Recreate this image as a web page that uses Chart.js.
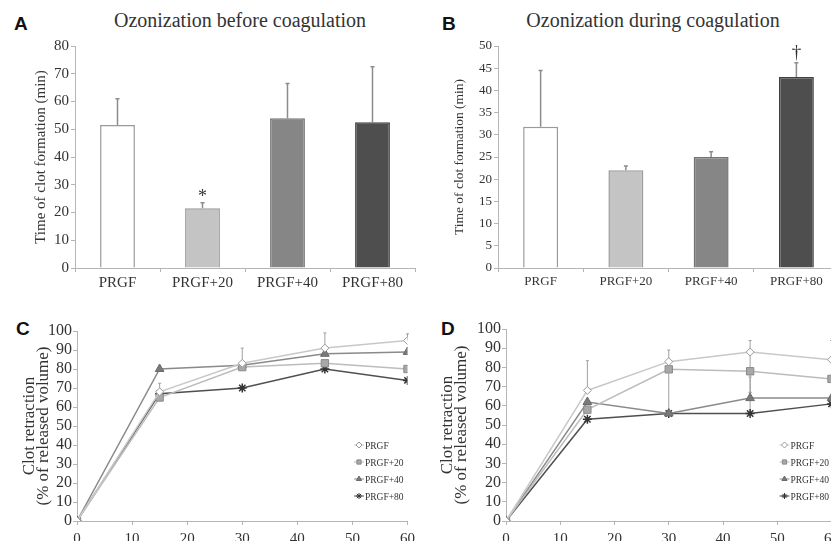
<!DOCTYPE html>
<html>
<head>
<meta charset="utf-8">
<title>Ozonization and clot formation</title>
<script src="https://cdn.jsdelivr.net/npm/chart.js@4.4.1/dist/chart.umd.min.js"></script>
<style>
  html, body { margin: 0; padding: 0; background: #fff; overflow: hidden; }
  body { width: 831px; height: 541px; position: relative; }
  canvas { position: absolute; }
  .panel { position: absolute; font: bold 19px "Liberation Sans", Arial, sans-serif; line-height: 19px; color: #111; }
  .title { position: absolute; font: 20px "Liberation Serif", "Times New Roman", serif; line-height: 20px; color: #333; white-space: nowrap; transform: translateX(-50%); }
</style>
</head>
<body>
<div class="panel" style="left:14px;top:14px">A</div>
<div class="panel" style="left:442px;top:14px">B</div>
<div class="panel" style="left:16px;top:319px">C</div>
<div class="panel" style="left:441px;top:319px">D</div>
<div class="title" style="left:240px;top:10px">Ozonization before coagulation</div>
<div class="title" style="left:653px;top:10px">Ozonization during coagulation</div>

<canvas id="chartA" width="420" height="290" style="left:0;top:0"></canvas>
<canvas id="chartB" width="430" height="290" style="left:415px;top:0"></canvas>
<canvas id="chartC" width="420" height="251" style="left:0;top:290px"></canvas>
<canvas id="chartD" width="429" height="251" style="left:415px;top:290px"></canvas>

<script>
// --- data ---
const groups = ['PRGF', 'PRGF+20', 'PRGF+40', 'PRGF+80'];

// A: ozonization before coagulation, time of clot formation (min)
const timeBefore = [51.5, 21.5, 54, 52.5];
const timeBeforeSD = [9.5, 2, 12.5, 20];
const marksBefore = ['', '*', '', ''];
const yMaxBefore = 80, yStepBefore = 10;

// B: ozonization during coagulation
const timeDuring = [31.8, 22, 25, 43];
const timeDuringSD = [12.7, 1, 1.2, 3.2];
const marksDuring = ['', '', '', '†'];
const yMaxDuring = 50, yStepDuring = 5;

// C / D: clot retraction (% of released volume) vs minutes
const minutes = [0, 15, 30, 45, 60];

const retrBeforePRGF = [0, 68, 83, 91, 95];
const retrBefore20 = [0, 65, 81, 83, 80];
const retrBefore40 = [0, 80, 82, 88, 89];
const retrBefore80 = [0, 67, 70, 80, 74];
const retrBeforeErrUpPRGF = [0, 4.5, 8, 8, 3.5];

const retrDuringPRGF = [0, 68, 83, 88, 84];
const retrDuring20 = [0, 58, 79, 78, 74];
const retrDuring40 = [0, 62, 56, 64, 64];
const retrDuring80 = [0, 53, 56, 56, 61];
const retrDuringErrUpPRGF = [0, 15.5, 6, 6, 10];
const retrDuringErrUp20 = [0, 0, 0, 10, 20];
const retrDuringErrDown20 = [0, 0, 23, 11, 10];
const retrDuringErrUp40 = [0, 0, 0, 11, 0];
const retrDuringErrUp80 = [0, 0, 0, 11, 0];

// --- styles ---
const serif = '"Liberation Serif", "Times New Roman", serif';
const axisGray = '#b5b5b5';
const textGray = '#333';
const barFill = ['#ffffff', '#c4c4c4', '#868686', '#4e4e4e'];
const barEdge = ['#9a9a9a', '#9a9a9a', '#747474', '#414141'];
const lineColors = ['#c8c8c8', '#bcbcbc', '#8a8a8a', '#4f4f4f'];
const markerStyles = ['rectRot', 'rect', 'triangle', 'star'];
const markerFill = ['#ffffff', '#a8a8a8', '#7a7a7a', '#3c3c3c'];
const markerEdge = ['#9a9a9a', '#8a8a8a', '#6a6a6a', '#333333'];
const markerSize = [4, 5.2, 5, 4.5];

Chart.defaults.font.family = serif;
Chart.defaults.color = textGray;

function yValue(v) {
  return (v !== null && typeof v === 'object') ? v.y : v;
}

// vertical error bars (upper / lower) from dataset errUp / errDown
const errorBars = {
  id: 'errorBars',
  beforeDatasetsDraw(chart) {
    const ctx = chart.ctx;
    const y = chart.scales.y;
    ctx.save();
    chart.data.datasets.forEach((ds, i) => {
      const meta = chart.getDatasetMeta(i);
      meta.data.forEach((el, j) => {
        const v = yValue(ds.data[j]);
        const up = ds.errUp ? ds.errUp[j] : 0;
        const down = ds.errDown ? ds.errDown[j] : 0;
        const cap = ds.errCap || 2;
        ctx.strokeStyle = ds.errColor || '#999';
        ctx.lineWidth = ds.errWidth || 1;
        const x = el.x;
        const y0 = y.getPixelForValue(v);
        [[up, 1], [down, -1]].forEach(([e, sgn]) => {
          if (!e) return;
          const ye = y.getPixelForValue(v + sgn * e);
          ctx.beginPath();
          ctx.moveTo(x, y0);
          ctx.lineTo(x, ye);
          ctx.moveTo(x - cap, ye);
          ctx.lineTo(x + cap, ye);
          ctx.stroke();
        });
      });
    });
    ctx.restore();
  }
};

// significance symbols above the error bars
const sigMarks = {
  id: 'sigMarks',
  afterDatasetsDraw(chart, args, opts) {
    if (!opts.marks) return;
    const ctx = chart.ctx;
    const y = chart.scales.y;
    const ds = chart.data.datasets[0];
    const meta = chart.getDatasetMeta(0);
    ctx.save();
    ctx.font = opts.font;
    ctx.fillStyle = textGray;
    ctx.textAlign = 'center';
    ctx.textBaseline = 'alphabetic';
    opts.marks.forEach((m, j) => {
      if (!m) return;
      const top = yValue(ds.data[j]) + (ds.errUp ? ds.errUp[j] : 0);
      ctx.fillText(m, meta.data[j].x, y.getPixelForValue(top) - opts.gap);
    });
    ctx.restore();
  }
};

// small legend sitting inside the plot, lower right
const insideLegend = {
  id: 'insideLegend',
  afterDatasetsDraw(chart, args, opts) {
    if (!opts.display) return;
    const {ctx, chartArea} = chart;
    ctx.save();
    ctx.font = '9.5px ' + serif;
    ctx.textBaseline = 'middle';
    ctx.textAlign = 'left';
    chart.data.datasets.forEach((ds, i) => {
      const cx = chartArea.right - opts.fromRight;
      const cy = chartArea.bottom - opts.fromBottom + i * opts.rowGap;
      ctx.strokeStyle = ds.borderColor;
      ctx.lineWidth = 1;
      ctx.beginPath();
      ctx.moveTo(cx - 5, cy);
      ctx.lineTo(cx + 5, cy);
      ctx.stroke();
      ctx.fillStyle = ds.pointBackgroundColor;
      ctx.strokeStyle = ds.pointBorderColor;
      if (Chart.helpers && Chart.helpers.drawPoint) {
        Chart.helpers.drawPoint(ctx, {pointStyle: ds.pointStyle, radius: 3, borderWidth: 1, rotation: 0}, cx, cy);
      }
      ctx.fillStyle = textGray;
      ctx.fillText(ds.label, cx + 6, cy + 1);
    });
    ctx.restore();
  }
};

function gridOpts() {
  return { display: true, drawOnChartArea: false, drawTicks: true, tickLength: 4, color: axisGray };
}

function barChart(id, values, errs, marks, yMax, yStep, f) {
  new Chart(document.getElementById(id), {
    type: 'bar',
    data: {
      labels: groups,
      datasets: [{
        data: values,
        errUp: errs,
        errColor: '#8c8c8c',
        errWidth: 1.5,
        errCap: 2,
        backgroundColor: barFill,
        borderColor: barEdge,
        borderWidth: 1.5,
        barPercentage: 0.41,
        categoryPercentage: 1.0
      }]
    },
    options: {
      responsive: false,
      animation: false,
      devicePixelRatio: 1,
      layout: { padding: { top: 46, right: f.padRight, bottom: 0, left: 0 } },
      plugins: {
        legend: { display: false },
        tooltip: { enabled: false },
        sigMarks: { marks: marks, gap: f.markGap, font: f.markFont }
      },
      scales: {
        x: {
          grid: gridOpts(),
          border: { color: axisGray },
          ticks: { font: { size: f.tick }, color: textGray, padding: 2, maxRotation: 0, autoSkip: false },
          afterFit: s => { s.height = 22; }
        },
        y: {
          min: 0,
          max: yMax,
          grid: gridOpts(),
          border: { color: axisGray },
          ticks: { stepSize: yStep, font: { size: f.tick }, color: textGray, padding: 2, autoSkip: false },
          title: {
            display: true,
            text: 'Time of clot formation (min)',
            font: { size: f.yTitle },
            color: textGray,
            padding: { top: f.titlePad, bottom: 0 }
          },
          afterFit: s => { s.width = f.yWidth; }
        }
      }
    },
    plugins: [errorBars, sigMarks]
  });
}

function series(i, values, errUp, errDown) {
  return {
    label: groups[i],
    data: minutes.map((m, k) => ({ x: m, y: values[k] })),
    errUp: errUp,
    errDown: errDown,
    errColor: '#a0a0a0',
    errWidth: 1,
    errCap: 1.5,
    borderColor: lineColors[i],
    borderWidth: 1.5,
    tension: 0,
    pointStyle: markerStyles[i],
    pointRadius: markerSize[i],
    pointBackgroundColor: markerFill[i],
    pointBorderColor: markerEdge[i],
    pointBorderWidth: i === 3 ? 1.5 : 1
  };
}

function lineChart(id, datasets, f) {
  new Chart(document.getElementById(id), {
    type: 'line',
    data: { datasets: datasets },
    options: {
      responsive: false,
      animation: false,
      devicePixelRatio: 1,
      layout: { padding: { top: f.padTop, right: f.padRight, bottom: 0, left: 0 } },
      plugins: {
        legend: { display: false },
        tooltip: { enabled: false },
        insideLegend: { display: true, fromRight: f.legendRight, fromBottom: 76, rowGap: 17 }
      },
      scales: {
        x: {
          type: 'linear',
          min: 0,
          max: 60,
          grid: gridOpts(),
          border: { color: axisGray },
          ticks: { stepSize: 10, font: { size: 15 }, color: textGray, padding: 5, autoSkip: false },
          afterFit: s => { s.height = 20; }
        },
        y: {
          min: 0,
          max: 100,
          grid: gridOpts(),
          border: { color: axisGray },
          ticks: { stepSize: 10, font: { size: 16 }, color: textGray, padding: 1, autoSkip: false },
          title: {
            display: true,
            text: ['Clot retraction', '(% of released volume)'],
            font: { size: 17, lineHeight: '14px' },
            color: textGray,
            padding: { top: f.titlePad, bottom: 0 }
          },
          afterFit: s => { s.width = f.yWidth; }
        }
      }
    },
    plugins: [errorBars, insideLegend]
  });
}

barChart('chartA', timeBefore, timeBeforeSD, marksBefore, yMaxBefore, yStepBefore,
  { padRight: 5, tick: 15, yTitle: 15, titlePad: 32, yWidth: 75, markGap: 1, markFont: '18px ' + serif });

barChart('chartB', timeDuring, timeDuringSD, marksDuring, yMaxDuring, yStepDuring,
  { padRight: 6, tick: 13, yTitle: 13.5, titlePad: 36, yWidth: 83, markGap: 5, markFont: '19px ' + serif });

lineChart('chartC', [
  series(0, retrBeforePRGF, retrBeforeErrUpPRGF, null),
  series(1, retrBefore20, null, null),
  series(2, retrBefore40, null, null),
  series(3, retrBefore80, null, null)
], { padTop: 41, padRight: 11.5, titlePad: 23, yWidth: 77, legendRight: 48.5 });

lineChart('chartD', [
  series(0, retrDuringPRGF, retrDuringErrUpPRGF, null),
  series(1, retrDuring20, retrDuringErrUp20, retrDuringErrDown20),
  series(2, retrDuring40, retrDuringErrUp40, null),
  series(3, retrDuring80, retrDuringErrUp80, null)
], { padTop: 39, padRight: 12, titlePad: 25.5, yWidth: 91, legendRight: 47 });
</script>
</body>
</html>
